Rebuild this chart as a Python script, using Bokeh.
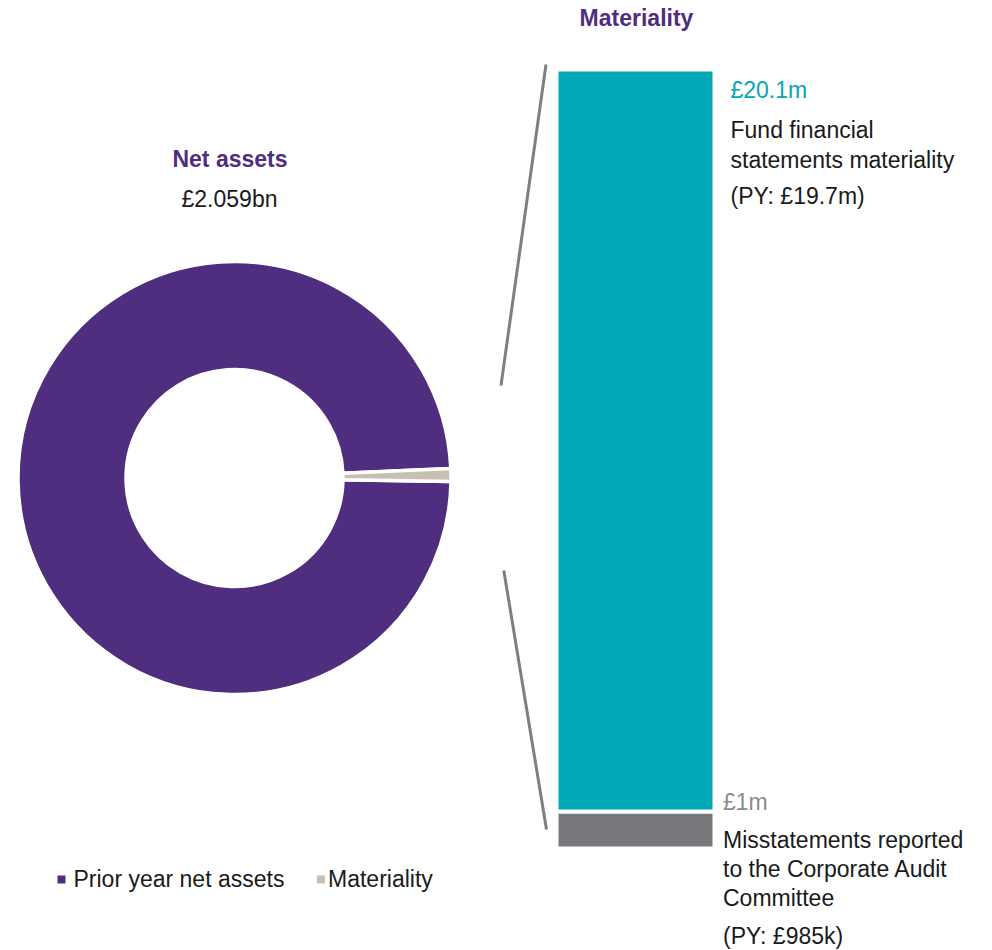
import numpy as np
from bokeh.plotting import figure
from bokeh.models import Range1d, ColumnDataSource
from bokeh.core.properties import value
from bokeh.embed import file_html
from bokeh.resources import INLINE

# ---------------- data ----------------
donut_labels = ["Prior year net assets", "Materiality"]
donut_values = [2059.0, 20.1]          # £m
donut_colors = ["#4f2d7f", "#c8bfb2"]

bar_names = ["Misstatements reported to the Corporate Audit Committee",
             "Fund financial statements materiality"]
bar_values = [1.0, 20.1]               # £m
bar_colors = ["#77787b", "#00a7b5"]
bar_value_labels = ["£1m", "£20.1m"]
bar_py_labels = ["(PY: £985k)", "(PY: £19.7m)"]

net_assets_title = "Net assets"
net_assets_label = "£2.059bn"
bar_title = "Materiality"

# ---------------- layout ----------------
FONT = value("Liberation Sans")
FS = "23px"
W, H = 992, 950
TY = 8  # text baseline correction

p = figure(width=W, height=H, x_range=Range1d(0, W), y_range=Range1d(-H, 0),
           output_backend="svg", toolbar_location=None, min_border=0,
           x_axis_location=None, y_axis_location=None)
p.grid.visible = False
p.outline_line_color = None
p.background_fill_color = "white"
p.border_fill_color = "white"


def ty(s):
    return [-(v - TY) for v in s]


# ---------------- donut ----------------
CX, CY = 234, -477.5
R_OUT, R_IN = 216.5, 108.5
START = np.deg2rad(-0.94)
vals = np.array(donut_values)
fr = vals / vals.sum() * 2 * np.pi
cum = np.cumsum(fr)
starts = START - np.concatenate([[0], cum[:-1]])
ends = START - cum
dsrc = ColumnDataSource(dict(start=starts, end=ends, color=donut_colors))
p.annular_wedge(x=CX, y=CY, inner_radius=R_IN, outer_radius=R_OUT,
                start_angle="start", end_angle="end", direction="clock",
                fill_color="color", line_color="white", line_width=3.5, source=dsrc)

p.text(x=[229.5], y=ty([166]), text=[net_assets_title], text_font=FONT, text_font_size=FS,
       text_font_style="bold", text_color="#4f2d7f", text_align="center",
       text_baseline="alphabetic")
p.text(x=[229], y=ty([206.5]), text=[net_assets_label], text_font=FONT, text_font_size=FS,
       text_color="#1a1a1a", text_align="center", text_baseline="alphabetic")

# legend
p.scatter(x=[61, 320.5], y=[-879, -879], marker="square", size=8,
          fill_color=donut_colors, line_color=None)
p.text(x=[73, 327.5], y=ty([886, 886]), text=donut_labels, text_font=FONT, text_font_size=FS,
       text_color="#1a1a1a", text_align="left", text_baseline="alphabetic")

# ---------------- bar ----------------
p.extra_y_ranges = {"bar": Range1d(-2.763, 22.969)}
bv = np.array(bar_values)
tops = np.cumsum(bv)
bottoms = tops - bv
bsrc = ColumnDataSource(dict(bottom=bottoms, top=tops, color=bar_colors))
p.vbar(x=635, width=158, bottom="bottom", top="top", fill_color="color",
       line_color="white", line_width=4, y_range_name="bar", source=bsrc)

p.text(x=[636], y=ty([25]), text=[bar_title], text_font=FONT, text_font_size=FS,
       text_font_style="bold", text_color="#4f2d7f", text_align="center",
       text_baseline="alphabetic")

# connector lines
p.segment(x0=[545.5, 503.3], y0=[-64, -570], x1=[500.5, 546], y1=[-385, -829],
          line_color="#7f7f7f", line_width=3)

# upper (teal) labels
p.text(x=[730], y=ty([97]), text=[bar_value_labels[1]], text_font=FONT, text_font_size=FS,
       text_color="#00a7b5", text_baseline="alphabetic")
p.text(x=[730, 730], y=ty([137.5, 167]),
       text=["Fund financial", "statements materiality"],
       text_font=FONT, text_font_size=FS, text_color="#1a1a1a", text_baseline="alphabetic")
p.text(x=[730], y=ty([203]), text=[bar_py_labels[1]], text_font=FONT, text_font_size=FS,
       text_color="#1a1a1a", text_baseline="alphabetic")

# lower (grey) labels
p.text(x=[722.5], y=ty([809]), text=[bar_value_labels[0]], text_font=FONT, text_font_size=FS,
       text_color="#8c8c8c", text_baseline="alphabetic")
p.text(x=[722.5, 722.5, 722.5], y=ty([847, 876, 905]),
       text=["Misstatements reported", "to the Corporate Audit", "Committee"],
       text_font=FONT, text_font_size=FS, text_color="#1a1a1a", text_baseline="alphabetic")
p.text(x=[722.5], y=ty([943]), text=[bar_py_labels[0]], text_font=FONT, text_font_size=FS,
       text_color="#1a1a1a", text_baseline="alphabetic")

open("out.html", "w").write(file_html(p, INLINE))
